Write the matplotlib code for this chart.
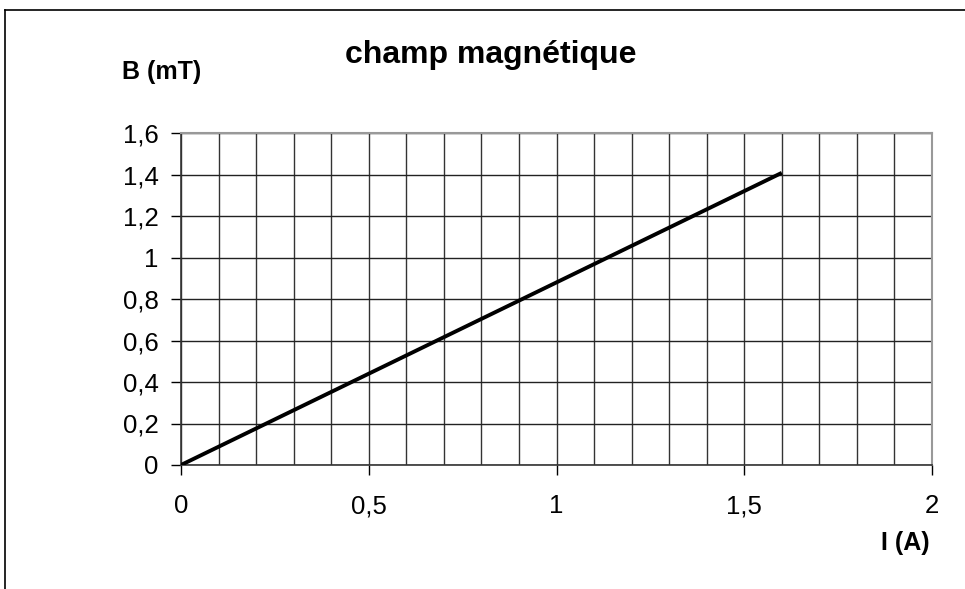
import matplotlib
matplotlib.use("Agg")
import matplotlib.pyplot as plt
from matplotlib.lines import Line2D

plt.rcParams['font.family'] = ['Liberation Sans', 'DejaVu Sans']

I_A = [0.0, 0.4, 0.8, 1.2, 1.6]
B_mT = [0.0, 0.352, 0.704, 1.056, 1.408]

x_ticks = [0, 0.5, 1, 1.5, 2]
x_tick_labels = ["0", "0,5", "1", "1,5", "2"]
y_ticks = [0, 0.2, 0.4, 0.6, 0.8, 1.0, 1.2, 1.4, 1.6]
y_tick_labels = ["0", "0,2", "0,4", "0,6", "0,8", "1", "1,2", "1,4", "1,6"]
x_grid = [i / 10 for i in range(0, 21)]

W, H = 965, 589
fig = plt.figure(figsize=(W / 100, H / 100), dpi=100)
ax = fig.add_axes([181 / W, 1 - 465 / H, (932 - 181) / W, (465 - 133) / H])

ax.set_xlim(0, 2)
ax.set_ylim(0, 1.6)

for xv in x_grid:
    ax.axvline(xv, color='#333333', lw=1.0, zorder=1)
for yv in y_ticks:
    ax.axhline(yv, color='#222222', lw=1.0, zorder=1)

ax.plot(I_A, B_mT, color='black', lw=2.8, zorder=3, solid_capstyle='butt')

ax.set_xticks(x_ticks)
ax.set_xticklabels(x_tick_labels)
ax.set_yticks(y_ticks)
ax.set_yticklabels(y_tick_labels)
ax.tick_params(axis='x', direction='out', length=7, width=1, pad=14, labelsize=18.5, colors='black')
ax.tick_params(axis='y', direction='out', length=7, width=1, pad=9, labelsize=18.5, colors='black')

for s in ['top', 'right']:
    ax.spines[s].set_color('#999999')
    ax.spines[s].set_linewidth(1.5)
for s in ['left', 'bottom']:
    ax.spines[s].set_color('#333333')
    ax.spines[s].set_linewidth(1.2)

fig.text(491 / W, 1 - 55 / H, "champ magnétique", ha='center', va='center',
         fontsize=23, fontweight='bold')
fig.text(122 / W, 1 - 72 / H, "B (mT)", ha='left', va='center',
         fontsize=18, fontweight='bold')
fig.text(930 / W, 1 - 543 / H, "I (A)", ha='right', va='center',
         fontsize=18, fontweight='bold')

# outer chart border
fig.add_artist(Line2D([5 / W, 5 / W], [0, 1 - 10 / H], color='black', lw=1.2,
                      transform=fig.transFigure))
fig.add_artist(Line2D([5 / W, 1], [1 - 10 / H, 1 - 10 / H], color='black', lw=1.2,
                      transform=fig.transFigure))

fig.savefig("out.png", dpi=100)
